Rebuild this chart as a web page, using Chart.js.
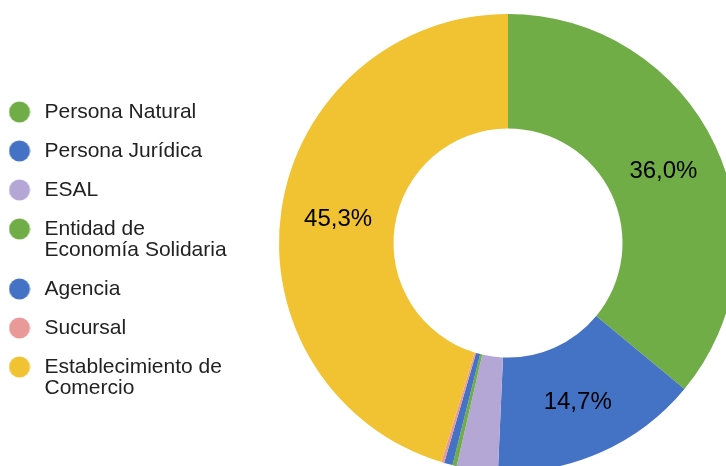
<!DOCTYPE html>
<html>
<head>
<meta charset="utf-8">
<script src="https://cdn.jsdelivr.net/npm/chart.js@4"></script>
<style>
  html, body { margin: 0; padding: 0; background: #fff; overflow: hidden; }
  canvas { display: block; }
</style>
</head>
<body>
<canvas id="donutChart" width="726" height="466"></canvas>
<script>
const categories = [
    'Persona Natural',
    'Persona Jurídica',
    'ESAL',
    ['Entidad de', 'Economía Solidaria'],
    'Agencia',
    'Sucursal',
    ['Establecimiento de', 'Comercio']
];
const shares = [36.0, 14.7, 2.9, 0.3, 0.6, 0.2, 45.3];
const colors = ['#71AD47', '#4472C4', '#B4A7D6', '#71AD47', '#4472C4', '#EA9999', '#F1C232'];

const FONT = 'Arial, "Liberation Sans", Helvetica, sans-serif';

// legend dots as small canvases so the circle size and text gap can be set apart
function makeDot(color) {
    const c = document.createElement('canvas');
    c.width = 22;
    c.height = 22;
    const g = c.getContext('2d');
    g.fillStyle = color;
    g.beginPath();
    g.arc(11, 11, 10.5, 0, Math.PI * 2);
    g.fill();
    return c;
}
const dots = colors.map(makeDot);

// the donut is larger than the window and runs off the right and bottom edges
const areaPlugin = {
    id: 'donutArea',
    afterLayout(chart) {
        const ca = chart.chartArea;
        ca.left = 279;
        ca.top = 14;
        ca.right = 737;
        ca.bottom = 472;
        ca.width = ca.right - ca.left;
        ca.height = ca.bottom - ca.top;
    }
};

// percentage labels on the big slices
const percentPlugin = {
    id: 'percentLabels',
    afterDatasetsDraw(chart) {
        const ctx = chart.ctx;
        const meta = chart.getDatasetMeta(0);
        const data = chart.data.datasets[0].data;
        const total = data.reduce((a, b) => a + b, 0);
        ctx.save();
        ctx.font = '24px ' + FONT;
        ctx.fillStyle = '#000';
        ctx.textAlign = 'center';
        ctx.textBaseline = 'middle';
        meta.data.forEach((arc, i) => {
            const pct = data[i] / total * 100;
            if (pct < 5) return;
            const pos = arc.tooltipPosition();
            ctx.fillText(pct.toFixed(1).replace('.', ',') + '%', pos.x, pos.y + 2);
        });
        ctx.restore();
    }
};

const ctx = document.getElementById('donutChart').getContext('2d');

new Chart(ctx, {
    type: 'doughnut',
    data: {
        labels: categories,
        datasets: [{
            data: shares,
            backgroundColor: colors,
            borderWidth: 0
        }]
    },
    options: {
        responsive: false,
        animation: false,
        cutout: '50%',
        layout: {
            padding: { left: -13, top: 17, bottom: -17, right: 0 }
        },
        plugins: {
            tooltip: { enabled: false },
            legend: {
                position: 'left',
                align: 'center',
                labels: {
                    usePointStyle: true,
                    pointStyleWidth: 29,
                    boxHeight: 15,
                    padding: 18,
                    color: '#222',
                    font: { family: FONT, size: 21, lineHeight: 1.0 },
                    generateLabels: function (chart) {
                        return categories.map((text, i) => ({
                            text: text,
                            fillStyle: colors[i],
                            strokeStyle: colors[i],
                            lineWidth: 0,
                            pointStyle: dots[i],
                            fontColor: '#222',
                            hidden: false,
                            index: i
                        }));
                    }
                }
            }
        }
    },
    plugins: [areaPlugin, percentPlugin]
});
</script>
</body>
</html>
